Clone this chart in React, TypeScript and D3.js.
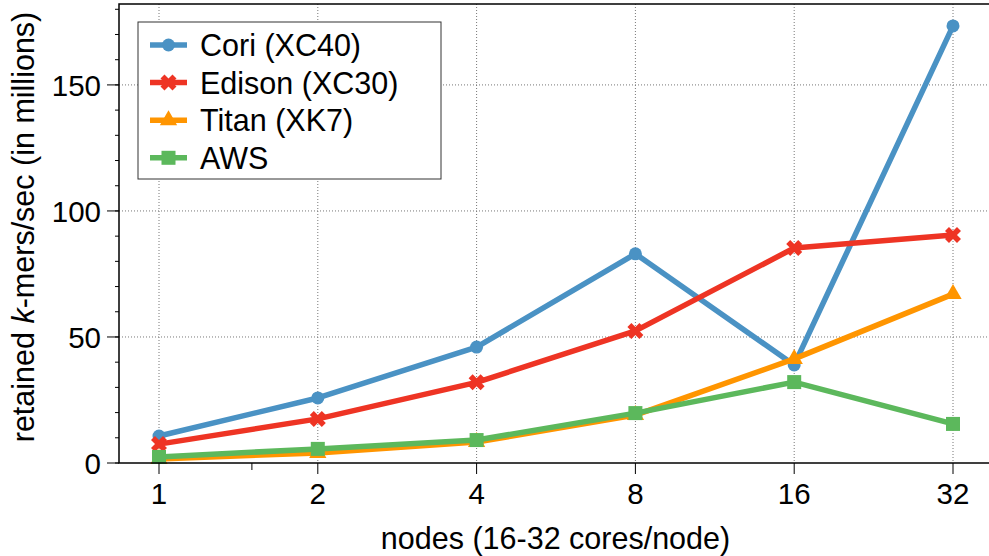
import * as d3 from 'd3';
import React from 'react';

// nodes on a log2 axis
const nodes = [1, 2, 4, 8, 16, 32];
const xMinor = [1.5];
const yTicks = [0, 50, 100, 150];
const yMinor = d3.range(0, 190, 10);

// retained k-mers/sec, in millions
const cori = [10.7, 25.8, 46, 83, 38.9, 173.4];
const edison = [7.5, 17.5, 32, 52.4, 85.3, 90.5];
const titan = [1.6, 4, 8.3, 19, 41.3, 67];
const aws = [2.4, 5.6, 9.1, 19.8, 32.1, 15.5];

const series = [
  {name: 'Cori (XC40)', values: cori, color: '#4a92c4', marker: 'circle'},
  {name: 'Edison (XC30)', values: edison, color: '#ee3424', marker: 'x'},
  {name: 'Titan (XK7)', values: titan, color: '#ff9500', marker: 'triangle'},
  {name: 'AWS', values: aws, color: '#5cb85c', marker: 'square'},
];

const font = '"Liberation Sans", Arial, Helvetica, sans-serif';

function Marker({type, x, y, color}) {
  if (type === 'circle') {
    return <circle cx={x} cy={y} r={6.5} fill={color} />;
  }
  if (type === 'square') {
    return <rect x={x - 7} y={y - 7} width={14} height={14} fill={color} />;
  }
  if (type === 'triangle') {
    const p = d3.symbol().type(d3.symbolTriangle).size(130)();
    return <path d={p} transform={`translate(${x},${y})`} fill={color} />;
  }
  // filled "X" marker
  const p = d3.symbol().type(d3.symbolCross).size(160)();
  return <path d={p} transform={`translate(${x},${y}) rotate(45)`} fill={color} />;
}

export default function App() {
  const width = 989, height = 556;
  const left = 119, top = 4, bottom = 463, right = 993;

  const x = d3.scaleLog().base(2).domain([1, 32]).range([159, 953]);
  const y = d3.scaleLinear().domain([0, 182.1]).range([bottom, top]);

  const line = d3.line<number>()
    .x((d, i) => x(nodes[i]))
    .y((d) => y(d));

  const legendX = 138, legendY = 22, rowH = 37.6;

  return (
    <svg width={width} height={height} style={{position: 'absolute', left: 0, top: 0}}
      fontFamily={font}>
      <rect width={width} height={height} fill="white" />

      {/* grid */}
      {nodes.map((n) => (
        <line key={'gx' + n} x1={x(n)} x2={x(n)} y1={top} y2={bottom}
          stroke="#777" strokeWidth={1} strokeDasharray="1,2" />
      ))}
      {yTicks.slice(1).map((t) => (
        <line key={'gy' + t} x1={left} x2={right} y1={y(t)} y2={y(t)}
          stroke="#777" strokeWidth={1} strokeDasharray="1,2" />
      ))}

      {/* series */}
      {series.map((s) => (
        <g key={s.name}>
          <path d={line(s.values)} fill="none" stroke={s.color} strokeWidth={5.5}
            strokeLinejoin="round" />
          {s.values.map((v, i) => (
            <Marker key={i} type={s.marker} x={x(nodes[i])} y={y(v)} color={s.color} />
          ))}
        </g>
      ))}

      {/* spines */}
      <rect x={left} y={top} width={right - left} height={bottom - top}
        fill="none" stroke="black" strokeWidth={1.5} />

      {/* y ticks */}
      {yMinor.map((t) => (
        <line key={'ym' + t} x1={left - 4} x2={left} y1={y(t)} y2={y(t)}
          stroke="black" strokeWidth={1} />
      ))}
      {yTicks.map((t) => (
        <g key={'yt' + t}>
          <line x1={left - 12} x2={left} y1={y(t)} y2={y(t)} stroke="black" strokeWidth={1} />
          <text x={left - 18} y={y(t)} dy="0.36em" textAnchor="end" fontSize={29.5}>{t}</text>
        </g>
      ))}

      {/* x ticks */}
      {xMinor.map((t) => (
        <line key={'xm' + t} x1={x(t)} x2={x(t)} y1={bottom} y2={bottom + 7}
          stroke="black" strokeWidth={1} />
      ))}
      {nodes.map((n) => (
        <g key={'xt' + n}>
          <line x1={x(n)} x2={x(n)} y1={bottom} y2={bottom + 11} stroke="black" strokeWidth={1} />
          <text x={x(n)} y={504} textAnchor="middle" fontSize={29.5}>{n}</text>
        </g>
      ))}

      {/* axis labels */}
      <text x={555.5} y={549} textAnchor="middle" fontSize={30.5}>nodes (16-32 cores/node)</text>
      <text transform={`translate(34,227) rotate(-90)`} textAnchor="middle" fontSize={30.5}>
        retained <tspan fontStyle="italic">k</tspan>-mers/sec (in millions)
      </text>

      {/* legend */}
      <rect x={legendX} y={legendY} width={303} height={157} fill="white"
        stroke="#333" strokeWidth={1} />
      {series.map((s, i) => {
        const cy = legendY + 23 + i * rowH;
        return (
          <g key={'lg' + s.name}>
            <line x1={150} x2={187} y1={cy} y2={cy} stroke={s.color} strokeWidth={5.5} />
            <Marker type={s.marker} x={168.5} y={cy} color={s.color} />
            <text x={200} y={cy} dy="0.36em" fontSize={30.5}>{s.name}</text>
          </g>
        );
      })}
    </svg>
  );
}
